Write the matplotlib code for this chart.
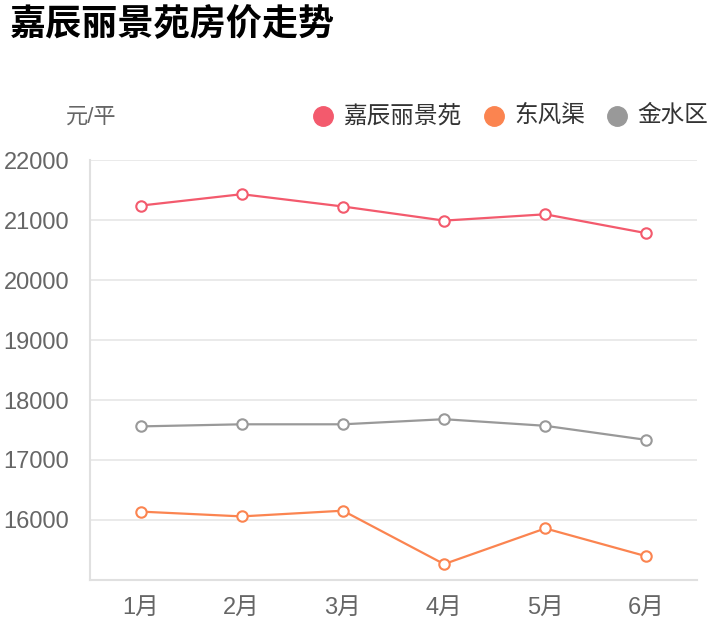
import matplotlib.pyplot as plt

plt.rcParams['font.family'] = ['Liberation Sans', 'Noto Sans CJK SC', 'DejaVu Sans']

months = ["1月", "2月", "3月", "4月", "5月", "6月"]
series_names = ["嘉辰丽景苑", "东风渠", "金水区"]
jiachen = [21240, 21430, 21225, 20990, 21095, 20780]
dongfengqu = [16140, 16060, 16155, 15265, 15860, 15395]
jinshui = [17560, 17595, 17595, 17680, 17570, 17335]
colors = ["#f35a6d", "#fb8450", "#999999"]
y_ticks = [15000, 16000, 17000, 18000, 19000, 20000, 21000, 22000]

W, H = 718, 640
fig = plt.figure(figsize=(W / 100, H / 100), dpi=100)
ax = fig.add_axes([90 / W, 60 / H, 607 / W, 420 / H])

x = list(range(len(months)))
for vals, c in zip([jiachen, dongfengqu, jinshui], colors):
    ax.plot(x, vals, color=c, lw=1.6, marker="o", markersize=7.5,
            markerfacecolor="white", markeredgecolor=c, markeredgewidth=1.5,
            zorder=3)

ax.set_xlim(-0.5, len(months) - 0.5)
ax.set_ylim(15000, 22000)
ax.set_xticks(x)
ax.set_xticklabels(months)
ax.set_yticks(y_ticks)
ax.set_yticklabels(["" if v == 15000 else str(v) for v in y_ticks])
ax.tick_params(axis="both", length=0, labelsize=17, labelcolor="#666666")
ax.tick_params(axis="y", pad=15)
ax.tick_params(axis="x", pad=12)
ax.grid(axis="y", color="#e6e6e6", lw=1.2)
ax.set_axisbelow(True)
for s in ["top", "right"]:
    ax.spines[s].set_visible(False)
for s in ["left", "bottom"]:
    ax.spines[s].set_color("#e0e0e0")
    ax.spines[s].set_linewidth(1.5)

fig.text(10 / W, 1 - 26 / H, "嘉辰丽景苑房价走势", fontsize=26, fontweight="bold",
         va="center", ha="left", color="black")
fig.text(91 / W, 1 - 117 / H, "元/平", fontsize=16, color="#666666",
         va="center", ha="center")

# legend
leg_x = [323, 494, 617]
for name, c, lx in zip(series_names, colors, leg_x):
    fig.lines.append(plt.Line2D([lx / W], [1 - 116 / H], marker="o", markersize=14,
                                color=c, transform=fig.transFigure, figure=fig))
    fig.text((lx + 20) / W, 1 - 116 / H, name, fontsize=17, color="#333333",
             va="center", ha="left")

fig.savefig("out.png", dpi=100)
